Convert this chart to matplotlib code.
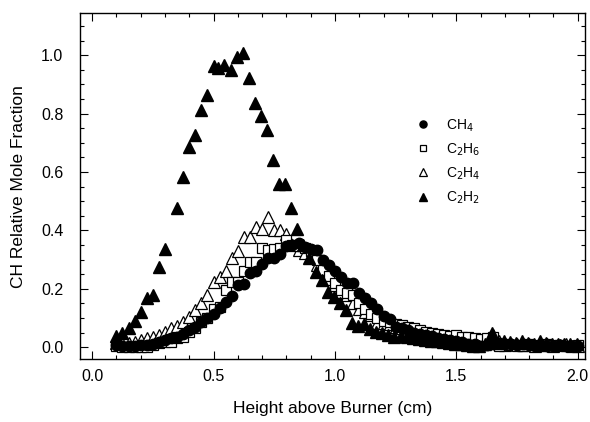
import numpy as np
import matplotlib
matplotlib.use("Agg")
import matplotlib.pyplot as plt
from matplotlib.ticker import MultipleLocator, FormatStrFormatter

plt.rcParams['font.family'] = ['Liberation Sans', 'DejaVu Sans']

# height above burner grid (cm), 0.1 .. 2.0 in steps of 0.025
x_ch4 = [0.10, 0.125, 0.15, 0.175, 0.20, 0.225, 0.25, 0.275, 0.30, 0.325,
         0.35, 0.375, 0.40, 0.425, 0.45, 0.475, 0.50, 0.525, 0.55, 0.575,
         0.60, 0.625, 0.65, 0.675, 0.70, 0.725, 0.75, 0.775, 0.80, 0.825,
         0.85, 0.875, 0.90, 0.925, 0.95, 0.975, 1.00, 1.025, 1.05, 1.075,
         1.10, 1.125, 1.15, 1.175, 1.20, 1.225, 1.25, 1.275, 1.30, 1.325,
         1.35, 1.375, 1.40, 1.425, 1.45, 1.475, 1.50, 1.525, 1.55, 1.575,
         1.60, 1.625, 1.65, 1.675, 1.70, 1.725, 1.75, 1.775, 1.80, 1.825,
         1.85, 1.875, 1.90, 1.925, 1.95, 1.975, 2.00]
y_ch4 = [0.008, 0.005, 0.005, 0.005, 0.006, 0.008, 0.012, 0.018, 0.024, 0.030,
         0.035, 0.045, 0.058, 0.070, 0.085, 0.100, 0.112, 0.135, 0.155, 0.175,
         0.212, 0.215, 0.255, 0.260, 0.285, 0.304, 0.306, 0.320, 0.345, 0.350,
         0.355, 0.344, 0.336, 0.332, 0.298, 0.280, 0.260, 0.240, 0.220, 0.218,
         0.185, 0.170, 0.150, 0.132, 0.105, 0.098, 0.070, 0.065, 0.058, 0.050,
         0.045, 0.040, 0.038, 0.032, 0.028, 0.025, 0.020, 0.018, 0.012, 0.010,
         0.005, 0.008, 0.010, 0.015, 0.012, 0.010, 0.008, 0.010, 0.006, 0.005,
         0.008, 0.005, 0.004, 0.006, 0.003, 0.005, 0.003]

x_c2h6 = x_ch4
y_c2h6 = [0.005, 0.000, 0.000, 0.000, 0.000, 0.000, 0.007, 0.013, 0.018, 0.018,
          0.030, 0.035, 0.052, 0.066, 0.085, 0.100, 0.130, 0.138, 0.195, 0.224,
          0.224, 0.260, 0.292, 0.292, 0.338, 0.332, 0.335, 0.340, 0.366, 0.350,
          0.345, 0.340, 0.330, 0.300, 0.264, 0.245, 0.220, 0.195, 0.184, 0.178,
          0.150, 0.130, 0.115, 0.100, 0.090, 0.085, 0.080, 0.075, 0.070, 0.065,
          0.060, 0.052, 0.048, 0.045, 0.041, 0.038, 0.040, 0.035, 0.035, 0.030,
          0.028, 0.030, 0.035, 0.005, 0.010, 0.008, 0.005, 0.005, 0.010, 0.008,
          0.005, 0.010, 0.006, 0.008, 0.005, 0.005, 0.008]

x_c2h4 = x_ch4
y_c2h4 = [0.013, 0.013, 0.013, 0.018, 0.024, 0.030, 0.035, 0.041, 0.052, 0.064,
          0.072, 0.087, 0.104, 0.127, 0.152, 0.178, 0.224, 0.241, 0.262, 0.304,
          0.328, 0.377, 0.377, 0.412, 0.406, 0.446, 0.401, 0.401, 0.387, 0.350,
          0.332, 0.321, 0.315, 0.281, 0.260, 0.235, 0.212, 0.190, 0.178, 0.150,
          0.132, 0.121, 0.110, 0.081, 0.081, 0.078, 0.070, 0.065, 0.060, 0.055,
          0.050, 0.045, 0.040, 0.040, 0.035, 0.030, 0.028, 0.025, 0.025, 0.020,
          0.022, 0.025, 0.043, 0.020, 0.008, 0.010, 0.012, 0.008, 0.010, 0.005,
          0.008, 0.010, 0.005, 0.008, 0.010, 0.005, 0.005]

x_c2h2 = [0.10, 0.125, 0.15, 0.175, 0.20, 0.225, 0.25, 0.275, 0.30, 0.35,
          0.375, 0.40, 0.425, 0.45, 0.475, 0.50, 0.52, 0.545, 0.57, 0.595,
          0.62, 0.645, 0.67, 0.695, 0.72, 0.745, 0.77, 0.795, 0.82, 0.845,
          0.87, 0.895, 0.92, 0.945, 0.97, 0.995, 1.02, 1.045, 1.07, 1.095,
          1.12, 1.145, 1.17, 1.195, 1.22, 1.245, 1.27, 1.295, 1.32, 1.345,
          1.37, 1.395, 1.42, 1.445, 1.47, 1.495, 1.52, 1.545, 1.57, 1.595,
          1.62, 1.645, 1.67, 1.695, 1.72, 1.745, 1.77, 1.795, 1.82, 1.845,
          1.87, 1.895, 1.92, 1.945, 1.97, 1.995]
y_c2h2 = [0.038, 0.047, 0.066, 0.089, 0.121, 0.167, 0.180, 0.273, 0.335, 0.475,
          0.583, 0.684, 0.726, 0.812, 0.865, 0.962, 0.957, 0.966, 0.949, 0.994,
          1.008, 0.920, 0.837, 0.792, 0.745, 0.640, 0.560, 0.560, 0.475, 0.404,
          0.350, 0.304, 0.258, 0.229, 0.190, 0.172, 0.150, 0.127, 0.081, 0.073,
          0.079, 0.061, 0.052, 0.047, 0.041, 0.035, 0.038, 0.035, 0.030, 0.028,
          0.025, 0.022, 0.020, 0.018, 0.015, 0.012, 0.010, 0.008, 0.005, 0.005,
          0.010, 0.050, 0.015, 0.020, 0.018, 0.015, 0.020, 0.015, 0.012, 0.020,
          0.013, 0.012, 0.010, 0.010, 0.012, 0.010]

labels = ['CH$_4$', 'C$_2$H$_6$', 'C$_2$H$_4$', 'C$_2$H$_2$']

fig = plt.figure(figsize=(5.9, 4.22), dpi=100)
ax = fig.add_axes([0.1356, 0.149, 0.856, 0.82])

ms = 7.5
h_c2h4, = ax.plot(x_c2h4, y_c2h4, '^', ms=ms + 1, mfc='white', mec='black', mew=0.9, ls='none', zorder=3)
h_c2h6, = ax.plot(x_c2h6, y_c2h6, 's', ms=ms - 0.5, mfc='white', mec='black', mew=0.9, ls='none', zorder=4)
h_ch4, = ax.plot(x_ch4, y_ch4, 'o', ms=ms, mfc='black', mec='black', ls='none', zorder=5)
h_c2h2, = ax.plot(x_c2h2, y_c2h2, '^', ms=ms + 1, mfc='black', mec='black', ls='none', zorder=6)

ax.legend([h_ch4, h_c2h6, h_c2h4, h_c2h2], labels,
          loc='upper left', bbox_to_anchor=(0.64, 0.735), frameon=False,
          markerscale=0.68, handlelength=1.0, handletextpad=1.2,
          labelspacing=0.55, fontsize=10)

ax.set_xlim(-0.05, 2.03)
ax.set_ylim(-0.041, 1.144)
ax.xaxis.set_major_locator(MultipleLocator(0.5))
ax.xaxis.set_minor_locator(MultipleLocator(0.1))
ax.yaxis.set_major_locator(MultipleLocator(0.2))
ax.yaxis.set_minor_locator(MultipleLocator(0.05))
ax.xaxis.set_major_formatter(FormatStrFormatter('%.1f'))
ax.yaxis.set_major_formatter(FormatStrFormatter('%.1f'))
ax.tick_params(which='both', direction='in', top=True, right=True, labelsize=11.5, width=0.8)
ax.tick_params(which='major', length=6)
ax.tick_params(which='minor', length=3)
ax.tick_params(axis='x', which='major', pad=7)
ax.tick_params(axis='y', which='major', pad=12)
for s in ax.spines.values():
    s.set_linewidth(1.0)

ax.set_xlabel('Height above Burner (cm)', fontsize=12.5, labelpad=12)
ax.set_ylabel('CH Relative Mole Fraction', fontsize=12.5, labelpad=11)

fig.savefig('out.png', dpi=100)
